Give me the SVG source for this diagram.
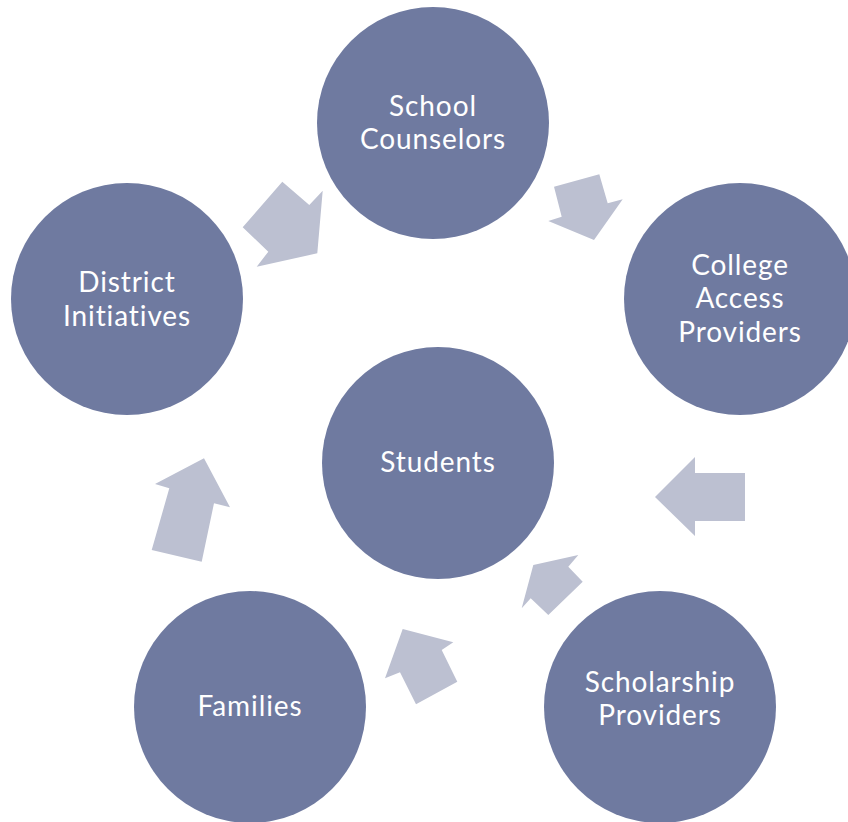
<svg xmlns="http://www.w3.org/2000/svg" width="848" height="822" viewBox="0 0 848 822">
<style>
.n{fill:#6f7aa0}
.t{fill:#ffffff;font-family:Lato,"Open Sans","Liberation Sans",sans-serif;font-size:28px;letter-spacing:0.9px;text-anchor:middle}
.a{fill:#bcc0d1}
</style>
<rect width="848" height="822" fill="#ffffff"/>
<g id="connectors">
<polygon class="a" points="282.3,181.7 309.3,205 322.7,190.7 317.3,253.3 256.7,266.7 268.3,251.7 242.7,227.3"/>
<polygon class="a" points="554,186.7 599.3,174.3 607.7,203.3 622.7,199.3 594,240 548.3,221 561.7,216.7"/>
<polygon class="a" points="655,497 695,457 695,473 745,473 745,521 695,521 695,536"/>
<polygon class="a" points="533.3,565 578.3,555 568.3,566.7 582.7,581.7 548.3,615 530.7,598.3 521.7,608.3"/>
<polygon class="a" points="402.7,629 453.3,642.3 441.7,650 457.3,681.7 416,704.3 400,672.3 385,678.3"/>
<polygon class="a" points="204,458.3 230,507.3 214,503.3 201.7,561.7 151.7,550 169.3,488.3 155,484"/>
</g>
<g id="school-counselors">
<circle class="n" cx="433" cy="123" r="116"/>
<text class="t" x="433" y="116">School</text>
<text class="t" x="433" y="149">Counselors</text>
</g>
<g id="college-access-providers">
<circle class="n" cx="740" cy="299" r="116"/>
<text class="t" x="740" y="275">College</text>
<text class="t" x="740" y="308">Access</text>
<text class="t" x="740" y="342">Providers</text>
</g>
<g id="district-initiatives">
<circle class="n" cx="127" cy="299" r="116"/>
<text class="t" x="127" y="292">District</text>
<text class="t" x="127" y="326">Initiatives</text>
</g>
<g id="students">
<circle class="n" cx="438" cy="463" r="116"/>
<text class="t" x="438" y="472">Students</text>
</g>
<g id="scholarship-providers">
<circle class="n" cx="660" cy="707" r="116"/>
<text class="t" x="660" y="692">Scholarship</text>
<text class="t" x="660" y="725">Providers</text>
</g>
<g id="families">
<circle class="n" cx="250" cy="707" r="116"/>
<text class="t" x="250" y="716">Families</text>
</g>
</svg>
